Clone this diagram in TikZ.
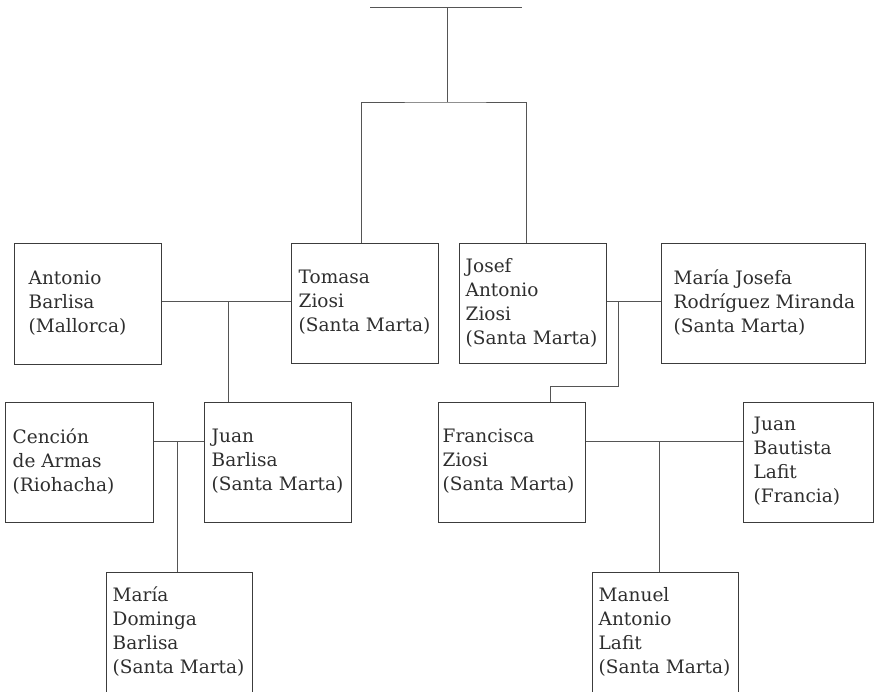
\documentclass[tikz,border=0pt]{standalone}
\usepackage{fontspec}
\setmainfont{DejaVu Serif}
\definecolor{boxc}{HTML}{3C3C3C}
\definecolor{linec}{HTML}{555555}
\definecolor{txt}{HTML}{2E2E2E}
\begin{document}
\begin{tikzpicture}[x=1pt,y=-1pt,
  box/.style={draw=boxc, line width=1pt, rectangle, inner sep=0pt},
  lbl/.style={anchor=west, align=left, inner sep=0pt, text=txt,
    font=\fontsize{18.5}{24}\selectfont},
  link/.style={draw=linec, line width=1pt}]
\useasboundingbox (0,0) rectangle (874,691);
\clip (0,0) rectangle (874,691);
% boxes
\node[box, minimum width=147pt, minimum height=121pt] (A)   at (87.5,303.5) {};
\node[box, minimum width=147pt, minimum height=120pt] (T)   at (364.5,303) {};
\node[box, minimum width=147pt, minimum height=120pt] (J)   at (532.5,303) {};
\node[box, minimum width=204pt, minimum height=120pt] (MJ)  at (763,303) {};
\node[box, minimum width=148pt, minimum height=120pt] (C)   at (79,462) {};
\node[box, minimum width=147pt, minimum height=120pt] (JB)  at (277.5,462) {};
\node[box, minimum width=147pt, minimum height=120pt] (F)   at (511.5,462) {};
\node[box, minimum width=130pt, minimum height=120pt] (JBL) at (808,462) {};
\node[box, minimum width=146pt, minimum height=128pt] (MD)  at (179,636) {};
\node[box, minimum width=146pt, minimum height=128pt] (M)   at (665,636) {};
% texts
\node[lbl] (tA)   at ([xshift=15pt,yshift=-60.5pt]A.north west)  {Antonio\\Barlisa\\(Mallorca)};
\node[lbl] (tT)   at ([xshift=8pt,yshift=-60pt]T.north west)     {Tomasa\\Ziosi\\(Santa Marta)};
\node[lbl] (tJ)   at ([xshift=7pt,yshift=-60pt]J.north west)     {Josef\\Antonio\\Ziosi\\(Santa Marta)};
\node[lbl] (tMJ)  at ([xshift=13pt,yshift=-60pt]MJ.north west)   {María Josefa\\Rodríguez Miranda\\(Santa Marta)};
\node[lbl] (tC)   at ([xshift=8pt,yshift=-60pt]C.north west)     {Cención\\de Armas\\(Riohacha)};
\node[lbl] (tJB)  at ([xshift=8pt,yshift=-60pt]JB.north west)    {Juan\\Barlisa\\(Santa Marta)};
\node[lbl] (tF)   at ([xshift=5pt,yshift=-60pt]F.north west)     {Francisca\\Ziosi\\(Santa Marta)};
\node[lbl] (tJBL) at ([xshift=11pt,yshift=-60pt]JBL.north west)  {Juan\\Bautista\\Lafit\\(Francia)};
\node[lbl] (tMD)  at ([xshift=7pt,yshift=-60pt]MD.north west)    {María\\Dominga\\Barlisa\\(Santa Marta)};
\node[lbl] (tM)   at ([xshift=7pt,yshift=-60pt]M.north west)     {Manuel\\Antonio\\Lafit\\(Santa Marta)};
% top ancestry
\coordinate (topL) at (370,7);
\coordinate (topR) at (522,7);
\coordinate (top)  at (447,7);
\coordinate (p1)   at (447,102);
\draw[link] (topL) -- (topR);
\draw[link] (top) -- (p1);
\draw[link] ([xshift=71pt]T.north west) |- (p1) -| ([xshift=68pt]J.north west);
% couples
\coordinate (m1) at (228,301);
\draw[link] (A.east |- m1) -- (T.west |- m1);
\draw[link] (m1) -- (m1 |- JB.north);
\coordinate (m2) at (618,301);
\coordinate (m2b) at (618,386);
\draw[link] (J.east |- m2) -- (MJ.west |- m2);
\draw[link] (m2) -- (m2b) -| ([xshift=113pt]F.north west);
\coordinate (m3) at (177,441);
\draw[link] (C.east |- m3) -- (JB.west |- m3);
\draw[link] (m3) -- (m3 |- MD.north);
\coordinate (m4) at (659,441);
\draw[link] (F.east |- m4) -- (JBL.west |- m4);
\draw[link] (m4) -- (m4 |- M.north);
\end{tikzpicture}
\end{document}
